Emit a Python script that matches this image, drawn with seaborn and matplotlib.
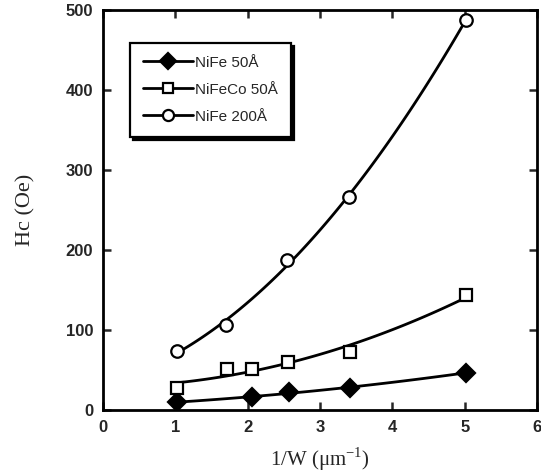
import numpy as np
import pandas as pd
import matplotlib
matplotlib.use('Agg')
import matplotlib.pyplot as plt
from matplotlib.lines import Line2D
import seaborn as sns

# Hc vs 1/W for the three films
x_nife50 = [1.02, 2.06, 2.57, 3.42, 5.02]
hc_nife50 = [9.5, 16, 22, 27.5, 46.5]

x_nifeco50 = [1.02, 1.71, 2.06, 2.56, 3.41, 5.02]
hc_nifeco50 = [27.5, 50.5, 51, 60, 72.5, 143]

x_nife200 = [1.02, 1.70, 2.55, 3.40, 5.01]
hc_nife200 = [73, 106, 187, 266, 487]

labels = ['NiFe 50Å', 'NiFeCo 50Å', 'NiFe 200Å']
xticks = [0, 1, 2, 3, 4, 5, 6]
yticks = [0, 100, 200, 300, 400, 500]

sns.set_style('ticks')
plt.rcParams['font.family'] = ['Liberation Sans', 'DejaVu Sans']

fig = plt.figure(figsize=(5.41, 4.76), dpi=100)
ax = fig.add_axes([0.190, 0.139, 0.803, 0.840])

series = [
    (x_nife50, hc_nife50, 'D', 'k', 9),
    (x_nifeco50, hc_nifeco50, 's', 'white', 8),
    (x_nife200, hc_nife200, 'o', 'white', 9),
]

handles = []
for (xs, ys, mk, fc, ms), lab in zip(series, labels):
    df = pd.DataFrame({'x': xs, 'y': ys})
    sns.regplot(data=df, x='x', y='y', order=2, ci=None, scatter=False,
                truncate=True, ax=ax,
                line_kws={'color': 'k', 'lw': 2.0, 'zorder': 2})
    ax.plot(xs, ys, ls='none', marker=mk, mfc=fc, mec='k', mew=1.6,
            ms=ms, zorder=3)
    handles.append(Line2D([], [], color='k', lw=2.0, marker=mk, mfc=fc,
                          mec='k', mew=1.6, ms=ms - 1, label=lab))

ax.set_xlim(0, 6)
ax.set_ylim(0, 500)
ax.set_xticks(xticks)
ax.set_yticks(yticks)
ax.tick_params(direction='in', length=6, width=1.8, top=True, right=True,
               labelsize=12, pad=7)
for lbl in ax.get_xticklabels() + ax.get_yticklabels():
    lbl.set_fontweight('semibold')
for sp in ax.spines.values():
    sp.set_visible(True)
    sp.set_linewidth(2.0)
    sp.set_color('k')

ax.set_xlabel('1/W (μm$^{\\mathregular{-1}}$)', family='Liberation Serif',
              fontsize=15, labelpad=8)
ax.set_ylabel('Hc (Oe)', family='Liberation Serif', fontsize=16, labelpad=22)

leg = ax.legend(handles=handles, loc='upper left',
                bbox_to_anchor=(0.062, 0.918), borderaxespad=0,
                frameon=True, fancybox=False, edgecolor='k',
                shadow={'color': 'k', 'alpha': 1.0}, framealpha=1,
                fontsize=11, handlelength=3.3, handletextpad=0.15,
                labelspacing=0.85, borderpad=0.85)
leg.get_frame().set_linewidth(1.6)

fig.savefig('out.png', dpi=100)
